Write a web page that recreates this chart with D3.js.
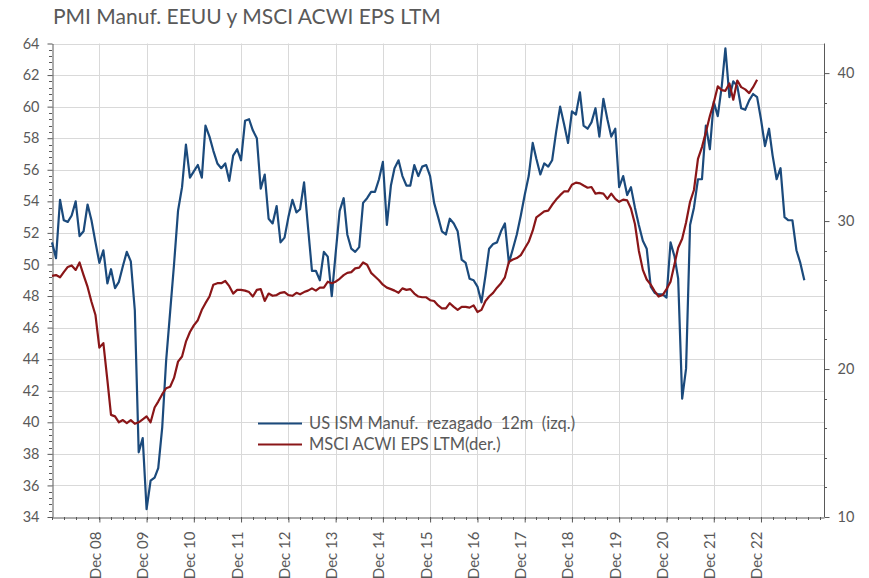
<!DOCTYPE html>
<html>
<head>
<meta charset="utf-8">
<script src="https://cdn.jsdelivr.net/npm/d3@7"></script>
<style>
body { margin: 0; background: #fff; }
svg text { font-family: Lato, "Liberation Sans", sans-serif; fill: #595959; }
</style>
</head>
<body>
<svg width="869" height="578"></svg>
<script>
// 数据：月度，从 Dec 2007 开始
const startMonth = new Date(2007, 11, 1);
const axisEnd = new Date(2024, 3, 1);

// US ISM Manuf. rezagado 12m (izq.)
const ismValues = [
	51.4, 50.4, 54.1, 52.8, 52.7, 53.1, 54.0, 51.8, 52.1, 53.8,
	52.8, 51.4, 50.1, 50.9, 48.8, 49.7, 48.5, 48.9, 49.9, 50.8,
	50.2, 47.1, 38.1, 39.0, 34.5, 36.3, 36.5, 37.1, 39.7, 43.9,
	47.0, 50.0, 53.4, 54.9, 57.6, 55.5, 55.9, 56.3, 55.5, 58.8,
	58.1, 57.2, 56.4, 56.1, 56.4, 55.3, 56.9, 57.3, 56.6, 59.1,
	59.2, 58.5, 58.0, 54.8, 55.7, 52.9, 52.6, 53.7, 51.4, 51.7,
	53.0, 54.1, 53.3, 53.5, 55.2, 52.4, 49.6, 49.6, 49.0, 50.8,
	50.5, 48.0, 50.7, 53.4, 54.2, 51.9, 51.0, 50.8, 51.1, 53.9,
	54.2, 54.6, 54.6, 55.4, 56.5, 52.5, 55.0, 56.1, 56.6, 55.6,
	55.0, 55.0, 56.3, 55.6, 56.2, 56.3, 55.6, 53.9, 53.0, 52.1,
	51.9, 52.9, 52.6, 52.1, 50.3, 50.1, 49.1, 49.0, 48.6, 47.6,
	49.3, 51.0, 51.3, 51.4, 52.1, 52.6, 50.1, 51.0, 51.9, 53.1,
	54.4, 55.6, 57.7, 56.7, 55.7, 56.4, 56.2, 56.6, 58.4, 60.0,
	58.9, 57.7, 59.7, 59.5, 60.9, 58.8, 58.6, 59.0, 59.9, 58.1,
	60.5, 59.2, 58.1, 58.6, 54.9, 55.6, 54.4, 54.9, 53.6, 52.5,
	51.5, 51.0, 48.6, 48.2, 48.1, 48.1, 47.9, 51.4, 50.5, 49.1,
	41.5, 43.4, 52.5, 53.6, 55.4, 55.4, 58.8, 57.3, 60.3, 59.4,
	61.3, 63.7, 60.6, 61.6, 61.3, 59.9, 59.8, 60.4, 60.8, 60.6,
	59.2, 57.5, 58.6, 56.9, 55.4, 56.1, 53.0, 52.8, 52.8, 50.9,
	50.1, 49.0
];

// MSCI ACWI EPS LTM (der.)
const epsValues = [
	26.3, 26.35, 26.2, 26.55, 26.9, 27.0, 26.7, 27.2, 26.35, 25.55,
	24.55, 23.65, 21.45, 21.75, 19.25, 16.9, 16.8, 16.4, 16.55, 16.35,
	16.55, 16.3, 16.4, 16.6, 16.8, 16.4, 17.4, 17.8, 18.3, 18.7,
	18.8, 19.4, 20.5, 20.85, 21.85, 22.5, 22.95, 23.3, 24.0, 24.45,
	24.9, 25.7, 25.8, 25.8, 25.95, 25.6, 25.1, 25.35, 25.35, 25.3,
	25.2, 24.9, 25.35, 25.4, 24.6, 25.1, 24.95, 25.0, 25.15, 25.2,
	25.0, 24.95, 25.15, 25.05, 25.2, 25.3, 25.45, 25.3, 25.5, 25.5,
	25.9, 25.8, 25.9, 26.1, 26.35, 26.5, 26.55, 26.8, 26.85, 27.2,
	27.05, 26.5, 26.25, 26.0, 25.7, 25.5, 25.4, 25.3, 25.15, 25.45,
	25.35, 25.4, 25.1, 24.9, 24.85, 24.85, 24.65, 24.6, 24.3, 24.1,
	24.1, 24.45, 24.2, 24.0, 24.2, 24.2, 24.15, 24.3, 23.85, 24.0,
	24.6, 24.9, 25.15, 25.5, 25.8, 26.2, 27.25, 27.4, 27.5, 27.7,
	28.15, 28.6, 29.35, 30.25, 30.45, 30.65, 30.7, 31.1, 31.45, 31.75,
	32.0, 32.0, 32.45, 32.6, 32.55, 32.4, 32.25, 32.3, 31.85, 31.9,
	31.85, 31.5, 31.85, 31.5, 31.3, 31.45, 31.4, 30.85, 29.8, 28.0,
	26.7, 26.05, 25.7, 25.25, 24.9, 25.0, 25.4, 25.9, 27.1, 28.2,
	28.8, 29.9, 31.3, 32.1, 34.2, 35.0, 36.0, 37.1, 38.0, 39.1,
	38.85, 38.8, 39.3, 38.2, 39.5, 39.05, 38.9, 38.65, 39.05, 39.55
];

// 刻度
const leftTicks = [34, 36, 38, 40, 42, 44, 46, 48, 50, 52, 54, 56, 58, 60, 62, 64];
const rightTicks = [10, 20, 30, 40];
const yearTicks = [2008, 2009, 2010, 2011, 2012, 2013, 2014, 2015, 2016, 2017, 2018, 2019, 2020, 2021, 2022];

const seriesNames = ["US ISM Manuf.  rezagado  12m  (izq.)", "MSCI ACWI EPS LTM(der.)"];
const seriesColors = ["#1b4a7c", "#8a1618"];

const ism = ismValues.map((v, i) => ({ date: d3.timeMonth.offset(startMonth, i), value: v }));
const eps = epsValues.map((v, i) => ({ date: d3.timeMonth.offset(startMonth, i), value: v }));

let svg = d3.select("svg");
const plotLeft = 52, plotRight = 824, plotTop = 43.5, plotBottom = 517;

const x = d3.scaleTime().domain([startMonth, axisEnd]).range([plotLeft, plotRight]);
const yLeft = d3.scaleLinear().domain([34, 64]).range([plotBottom, plotTop]);
const yRight = d3.scaleLinear().domain([10, 42]).range([plotBottom, plotTop]);

const decDates = yearTicks.map(y => new Date(y, 11, 1));

// 标题
svg.append("text")
	.attr("x", 53)
	.attr("y", 24)
	.attr("font-size", 21)
	.text("PMI Manuf. EEUU y MSCI ACWI EPS LTM");

// 网格线
let grid = svg.append("g").attr("stroke", "#d9d9d9").attr("stroke-width", 1);
grid.selectAll(".h")
	.data(leftTicks.filter(d => d > 34))
	.join("line")
	.attr("x1", plotLeft).attr("x2", plotRight)
	.attr("y1", d => Math.round(yLeft(d)) + 0.5)
	.attr("y2", d => Math.round(yLeft(d)) + 0.5);
grid.selectAll(".v")
	.data(decDates)
	.join("line")
	.attr("x1", d => Math.round(x(d)) + 0.5)
	.attr("x2", d => Math.round(x(d)) + 0.5)
	.attr("y1", plotTop).attr("y2", plotBottom);

// 左轴
const minorLeft = d3.range(34, 64.001, 0.4).filter(v => Math.abs(v / 2 - Math.round(v / 2)) > 0.01);
svg.append("g")
	.attr("stroke", "#595959")
	.selectAll("line")
	.data(minorLeft)
	.join("line")
	.attr("x1", plotLeft - 3).attr("x2", plotLeft)
	.attr("y1", d => Math.round(yLeft(d)) + 0.5)
	.attr("y2", d => Math.round(yLeft(d)) + 0.5);

let axL = svg.append("g")
	.attr("transform", "translate(" + (plotLeft + 0.5) + ",0)")
	.call(d3.axisLeft(yLeft).tickValues(leftTicks).tickSize(5).tickPadding(8).tickSizeOuter(0));
axL.select(".domain").attr("stroke", "#595959");
axL.selectAll(".tick line").attr("stroke", "#595959");
axL.selectAll("text").attr("font-size", 14.5).attr("fill", "#595959").attr("font-family", "Lato");

// 右轴
const minorRight = d3.range(12, 42, 2).filter(v => v % 10 !== 0);
svg.append("g")
	.attr("stroke", "#595959")
	.selectAll("line")
	.data(minorRight)
	.join("line")
	.attr("x1", plotRight).attr("x2", plotRight + 3)
	.attr("y1", d => Math.round(yRight(d)) + 0.5)
	.attr("y2", d => Math.round(yRight(d)) + 0.5);

let axR = svg.append("g")
	.attr("transform", "translate(" + (plotRight + 0.5) + ",0)")
	.call(d3.axisRight(yRight).tickValues(rightTicks).tickSize(5).tickPadding(8).tickSizeOuter(0));
axR.select(".domain").attr("stroke", "#595959").attr("d", "M0," + plotTop + "V" + plotBottom);
axR.selectAll(".tick line").attr("stroke", "#595959");
axR.selectAll("text").attr("font-size", 14.5).attr("fill", "#595959").attr("font-family", "Lato");

// 下轴
const minorX = d3.range(0, 197, 3).map(i => d3.timeMonth.offset(startMonth, i));
svg.append("g")
	.attr("stroke", "#595959")
	.selectAll("line")
	.data(minorX)
	.join("line")
	.attr("x1", d => Math.round(x(d)) + 0.5)
	.attr("x2", d => Math.round(x(d)) + 0.5)
	.attr("y1", plotBottom).attr("y2", plotBottom + 3);

let axB = svg.append("g")
	.attr("transform", "translate(0," + (plotBottom + 0.5) + ")")
	.call(d3.axisBottom(x).tickValues(decDates).tickSize(5).tickSizeOuter(0).tickFormat(d3.timeFormat("%b %y")));
axB.select(".domain").attr("stroke", "#595959");
axB.selectAll(".tick line").attr("stroke", "#595959");
axB.selectAll("text")
	.attr("font-size", 15)
	.attr("fill", "#595959")
	.attr("font-family", "Lato")
	.attr("text-anchor", "end")
	.attr("dy", null)
	.attr("y", 0)
	.attr("transform", "translate(1,14) rotate(-90)");

// 折线
function drawLine(data, yScale, color) {
	svg.append("path")
		.datum(data)
		.attr("fill", "none")
		.attr("stroke", color)
		.attr("stroke-width", 2.2)
		.attr("stroke-linejoin", "round")
		.attr("d", d3.line().x(d => x(d.date)).y(d => yScale(d.value)));
}
drawLine(ism, yLeft, seriesColors[0]);
drawLine(eps, yRight, seriesColors[1]);

// 图例
let legend = svg.append("g");
seriesNames.forEach((name, i) => {
	let ly = 423.5 + i * 21;
	legend.append("line")
		.attr("x1", 258).attr("x2", 302)
		.attr("y1", ly).attr("y2", ly)
		.attr("stroke", seriesColors[i])
		.attr("stroke-width", 2.2);
	legend.append("text")
		.attr("x", 309)
		.attr("y", ly + 5.5)
		.attr("font-size", 16.5)
		.attr("xml:space", "preserve")
		.style("white-space", "pre")
		.text(name);
});
</script>
</body>
</html>
